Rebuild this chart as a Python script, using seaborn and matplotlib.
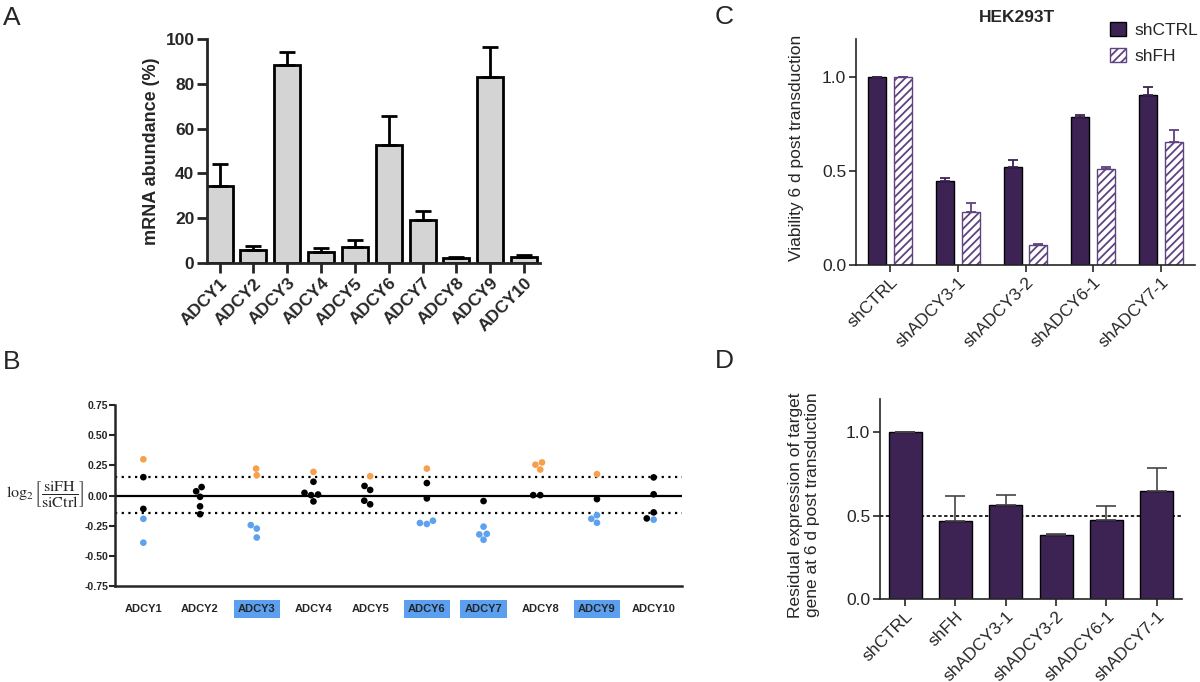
import matplotlib
matplotlib.use("Agg")
import matplotlib.pyplot as plt
import seaborn as sns
import numpy as np
import pandas as pd
from matplotlib.patches import Patch

sns.set_theme(style="ticks")
plt.rcParams['font.family'] = ['Liberation Sans', 'DejaVu Sans']
plt.rcParams['axes.unicode_minus'] = False
plt.rcParams['mathtext.fontset'] = 'stix'
plt.rcParams['hatch.linewidth'] = 1.3

# ---------------- data ----------------
a_genes = ["ADCY1", "ADCY2", "ADCY3", "ADCY4", "ADCY5",
           "ADCY6", "ADCY7", "ADCY8", "ADCY9", "ADCY10"]
a_mean = [34.2, 5.7, 88.2, 4.8, 7.1, 52.5, 19.3, 2.1, 83.0, 2.8]
a_upper = [44.2, 7.7, 94.2, 6.5, 10.3, 65.8, 23.2, 2.5, 96.6, 3.4]

b_genes = a_genes
b_highlight = ["ADCY3", "ADCY6", "ADCY7", "ADCY9"]
b_up = [[0.30], [], [0.168, 0.223], [0.196], [0.16], [0.223], [],
        [0.255, 0.215, 0.274], [0.177], []]
b_mid = [[0.152, -0.111], [0.035, 0.07, -0.011, -0.09, -0.155], [],
         [0.114, 0.008, 0.022, 0.003, -0.049], [0.079, 0.046, -0.043, -0.073],
         [0.103, -0.024], [-0.046], [0.003, 0.003], [-0.03],
         [0.15, 0.01, -0.14, -0.19]]
b_down = [[-0.193, -0.391], [], [-0.245, -0.274, -0.348], [], [],
          [-0.209, -0.236, -0.228], [-0.258, -0.318, -0.323, -0.367], [],
          [-0.163, -0.226, -0.193], [-0.2]]
b_thresh_hi = 0.152
b_thresh_lo = -0.145

c_groups = ["shCTRL", "shADCY3-1", "shADCY3-2", "shADCY6-1", "shADCY7-1"]
c_series = ["shCTRL", "shFH"]
c_ctrl = [1.0, 0.446, 0.520, 0.788, 0.901]
c_ctrl_upper = [1.0, 0.462, 0.559, 0.798, 0.943]
c_fh = [1.0, 0.281, 0.106, 0.508, 0.653]
c_fh_upper = [1.0, 0.331, 0.110, 0.520, 0.719]

d_groups = ["shCTRL", "shFH", "shADCY3-1", "shADCY3-2", "shADCY6-1", "shADCY7-1"]
d_mean = [1.0, 0.468, 0.566, 0.382, 0.476, 0.65]
d_upper = [1.0, 0.62, 0.626, 0.388, 0.56, 0.788]

PURPLE = "#3d2354"
PURPLE_L = "#5e4380"
W, H = 1200, 682

fig = plt.figure(figsize=(12, 6.82), dpi=100)


def fx(px):
    return px / W


def fy(py):
    return 1 - py / H


def centers(container):
    return [p.get_x() + p.get_width() / 2 for p in container]


# ---------------- Panel A ----------------
axA = fig.add_axes([fx(207), fy(263), fx(333), 224 / H])
sns.barplot(x=a_genes, y=a_mean, color="#d4d4d4", saturation=1, width=0.77,
            edgecolor="black", linewidth=2, errorbar=None, ax=axA)
xs = centers(axA.containers[0])
am = np.array(a_mean)
axA.errorbar(xs, am, yerr=[np.zeros_like(am), np.array(a_upper) - am],
             fmt="none", ecolor="black", elinewidth=2, capsize=5.5,
             capthick=2, zorder=3)
axA.set_xlim(-0.37, 9.47)
axA.set_ylim(0, 100)
axA.set_yticks(np.arange(0, 101, 20))
sns.despine(ax=axA)
for s in ["left", "bottom"]:
    axA.spines[s].set_linewidth(2)
axA.tick_params(axis="both", width=2, length=7, labelsize=12.5, pad=2)
axA.set_xticks(range(len(a_genes)))
axA.set_xticklabels(a_genes, rotation=45, ha="right", rotation_mode="anchor",
                    fontweight="bold")
for t in axA.get_yticklabels():
    t.set_fontweight("bold")
axA.set_xlabel("")
fig.text(fx(151), fy(151), "mRNA abundance (%)", rotation=90, ha="center",
         va="center", fontsize=13, fontweight="bold")

# ---------------- Panel B ----------------
rows = []
for g, u, m, d in zip(b_genes, b_up, b_mid, b_down):
    rows += [(g, v, "up") for v in u]
    rows += [(g, v, "none") for v in m]
    rows += [(g, v, "down") for v in d]
dfB = pd.DataFrame(rows, columns=["gene", "value", "cls"])

axB = fig.add_axes([fx(115), fy(586), fx(567), 181 / H])
axB.axhline(0, color="black", lw=1.6, zorder=1)
axB.axhline(b_thresh_hi, color="black", lw=1.6, ls=(0, (1, 2)), zorder=1)
axB.axhline(b_thresh_lo, color="black", lw=1.6, ls=(0, (1, 2)), zorder=1)
sns.swarmplot(data=dfB, x="gene", y="value", hue="cls", order=b_genes,
              hue_order=["up", "none", "down"],
              palette=["#f6a04b", "black", "#5ea2ee"], size=4.8,
              legend=False, ax=axB, zorder=3)
axB.set_xlim(-0.5, 9.5)
axB.set_ylim(-0.75, 0.75)
axB.set_yticks(np.arange(-0.75, 0.76, 0.25))
axB.set_yticklabels([f"{v:.2f}" for v in np.arange(-0.75, 0.76, 0.25)])
sns.despine(ax=axB)
for s in ["left", "bottom"]:
    axB.spines[s].set_linewidth(1.8)
axB.tick_params(axis="y", width=1.5, length=4, labelsize=7.6, pad=1)
axB.tick_params(axis="x", length=0, labelsize=8, pad=13)
for t in axB.get_yticklabels() + axB.get_xticklabels():
    t.set_fontweight("bold")
for t in axB.get_xticklabels():
    if t.get_text() in b_highlight:
        t.set_bbox(dict(facecolor="#5b9ff0", edgecolor="none",
                        boxstyle="square,pad=0.38"))
axB.set_xlabel("")
axB.set_ylabel("")
fig.text(fx(45), fy(495),
         r"$\log_2\left[\dfrac{\mathrm{siFH}}{\mathrm{siCtrl}}\right]$",
         ha="center", va="center", fontsize=11.5)

# ---------------- Panel C ----------------
dfC = pd.DataFrame({"group": c_groups * 2,
                    "series": [c_series[0]] * len(c_groups) + [c_series[1]] * len(c_groups),
                    "value": c_ctrl + c_fh})
axC = fig.add_axes([fx(856), fy(265), fx(339), 226 / H])
sns.barplot(data=dfC, x="group", y="value", hue="series", order=c_groups,
            hue_order=c_series, palette=[PURPLE, "white"], saturation=1,
            width=0.76, gap=0.3, edgecolor="black", linewidth=1,
            errorbar=None, legend=False, ax=axC)
for p in axC.containers[1]:
    p.set_hatch("////")
    p.set_edgecolor(PURPLE_L)
for cont, vals, ups, col in [(axC.containers[0], c_ctrl, c_ctrl_upper, PURPLE),
                             (axC.containers[1], c_fh, c_fh_upper, PURPLE_L)]:
    v = np.array(vals)
    axC.errorbar(centers(cont), v, yerr=[np.zeros_like(v), np.array(ups) - v],
                 fmt="none", ecolor=col, elinewidth=1.3, capsize=3.5,
                 capthick=1.3, zorder=3)
axC.set_xlim(-0.5, 4.5)
axC.set_ylim(0, 1.2)
axC.set_yticks([0, 0.5, 1.0])
axC.set_yticklabels(["0.0", "0.5", "1.0"])
sns.despine(ax=axC)
for s in ["left", "bottom"]:
    axC.spines[s].set_linewidth(1.2)
axC.tick_params(axis="both", width=1.2, length=5, labelsize=12.5, pad=2)
axC.set_xticks(range(len(c_groups)))
axC.set_xticklabels(c_groups, rotation=45, ha="right", rotation_mode="anchor")
axC.set_xlabel("")
axC.set_ylabel("")
fig.text(fx(797), fy(148), "Viability 6 d post transduction", rotation=90,
         ha="center", va="center", fontsize=12.5)
fig.text(fx(1017), fy(18), "HEK293T", ha="center", va="center",
         fontsize=12.5, fontweight="bold")
handles = [Patch(facecolor=PURPLE, edgecolor="black", lw=1),
           Patch(facecolor="white", edgecolor=PURPLE_L, hatch="////", lw=1)]
fig.legend(handles, c_series, loc="upper left",
           bbox_to_anchor=(fx(1110), fy(22)), frameon=False, fontsize=12.5,
           handlelength=0.9, handleheight=0.9, handletextpad=0.5,
           labelspacing=0.55, borderaxespad=0, borderpad=0)

# ---------------- Panel D ----------------
axD = fig.add_axes([fx(880), fy(599), fx(302), 200 / H])
axD.axhline(0.5, color="black", lw=1.2, ls=(0, (2, 1.5)), zorder=0.5)
sns.barplot(x=d_groups, y=d_mean, color=PURPLE, saturation=1, width=0.66,
            edgecolor="black", linewidth=1, errorbar=None, ax=axD)
dm = np.array(d_mean)
axD.errorbar(centers(axD.containers[0]), dm,
             yerr=[np.zeros_like(dm), np.array(d_upper) - dm], fmt="none",
             ecolor="#444444", elinewidth=1.2, capsize=7, capthick=1.2,
             zorder=3)
axD.set_xlim(-0.5, 5.5)
axD.set_ylim(0, 1.2)
axD.set_yticks([0, 0.5, 1.0])
axD.set_yticklabels(["0.0", "0.5", "1.0"])
sns.despine(ax=axD)
for s in ["left", "bottom"]:
    axD.spines[s].set_linewidth(1.2)
axD.tick_params(axis="both", width=1.2, length=5, labelsize=12.5, pad=2)
axD.set_xticks(range(len(d_groups)))
axD.set_xticklabels(d_groups, rotation=45, ha="right", rotation_mode="anchor")
axD.set_xlabel("")
axD.set_ylabel("")
fig.text(fx(804), fy(505),
         "Residual expression of target\ngene at 6 d post transduction",
         rotation=90, ha="center", va="center", fontsize=12.5,
         linespacing=1.1)

# ---------------- panel letters ----------------
for letter, x, y in [("A", 12, 18), ("B", 12, 362), ("C", 724, 17), ("D", 724, 361)]:
    fig.text(fx(x), fy(y), letter, ha="center", va="center", fontsize=19)

fig.savefig("out.png", dpi=100)
